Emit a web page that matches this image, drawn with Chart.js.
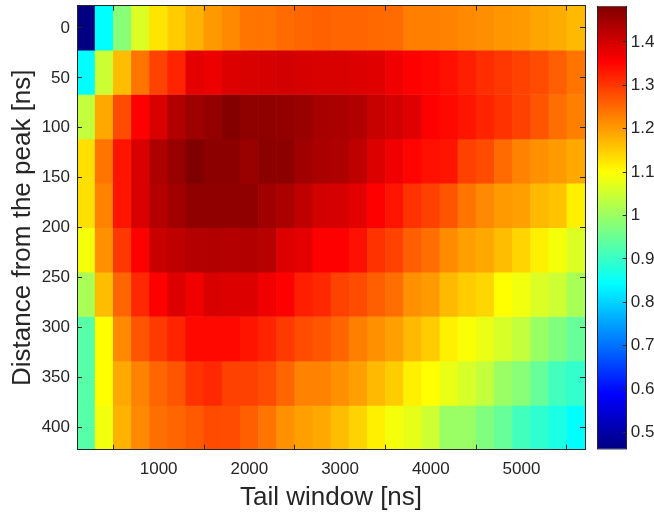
<!DOCTYPE html>
<html><head><meta charset="utf-8">
<script src="https://cdn.jsdelivr.net/npm/chart.js@4"></script>
<style>
html,body{margin:0;padding:0;background:#fff;width:654px;height:516px;overflow:hidden}
#main{position:absolute;left:0;top:0}
#cbar{position:absolute;left:560px;top:0}
</style></head><body>
<canvas id="main" width="654" height="516"></canvas>
<canvas id="cbar" width="94" height="516"></canvas>
<script>
// ---- data ----
const tailWindows = [200,400,600,800,1000,1200,1400,1600,1800,2000,2200,2400,2600,2800,3000,3200,3400,3600,3800,4000,4200,4400,4600,4800,5000,5200,5400,5600];
const peakDistances = [0,44.44,88.89,133.33,177.78,222.22,266.67,311.11,355.56,400];
const row_0   = [0.460,0.844,0.980,1.064,1.126,1.151,1.177,1.202,1.218,1.238,1.238,1.248,1.254,1.259,1.254,1.254,1.250,1.248,1.228,1.228,1.225,1.218,1.213,1.205,1.200,1.190,1.183,1.170];
const row_44  = [0.844,1.049,1.166,1.238,1.289,1.320,1.382,1.375,1.390,1.394,1.397,1.400,1.397,1.394,1.394,1.390,1.386,1.371,1.356,1.350,1.340,1.325,1.310,1.300,1.289,1.279,1.260,1.238];
const row_89  = [1.039,1.187,1.279,1.356,1.394,1.433,1.453,1.463,1.479,1.468,1.468,1.463,1.458,1.443,1.440,1.433,1.412,1.400,1.387,1.356,1.348,1.335,1.320,1.305,1.290,1.270,1.245,1.228];
const row_133 = [1.131,1.238,1.335,1.394,1.436,1.458,1.4835,1.471,1.471,1.458,1.471,1.471,1.450,1.440,1.436,1.420,1.390,1.371,1.353,1.340,1.335,1.290,1.279,1.248,1.225,1.210,1.200,1.187];
const row_178 = [1.131,1.225,1.335,1.394,1.430,1.450,1.466,1.466,1.466,1.466,1.450,1.440,1.420,1.400,1.397,1.382,1.356,1.335,1.305,1.290,1.270,1.238,1.218,1.200,1.195,1.170,1.160,1.115];
const row_222 = [1.090,1.210,1.300,1.356,1.410,1.420,1.430,1.433,1.430,1.433,1.428,1.390,1.382,1.356,1.356,1.340,1.305,1.289,1.260,1.245,1.215,1.195,1.187,1.166,1.143,1.115,1.090,1.064];
const row_267 = [1.013,1.166,1.254,1.315,1.356,1.390,1.370,1.394,1.390,1.390,1.370,1.356,1.325,1.315,1.289,1.279,1.260,1.245,1.210,1.200,1.170,1.151,1.140,1.100,1.087,1.064,1.050,1.013];
const row_311 = [0.931,1.100,1.218,1.270,1.297,1.320,1.348,1.348,1.348,1.335,1.320,1.297,1.279,1.270,1.254,1.228,1.210,1.195,1.170,1.151,1.115,1.095,1.080,1.060,1.039,0.998,0.972,0.946];
const row_356 = [0.931,1.100,1.187,1.225,1.254,1.270,1.305,1.315,1.290,1.290,1.279,1.254,1.225,1.225,1.210,1.195,1.170,1.151,1.115,1.100,1.080,1.060,1.039,0.998,0.980,0.946,0.910,0.895];
const row_400 = [0.931,1.087,1.177,1.218,1.245,1.254,1.265,1.280,1.279,1.260,1.238,1.210,1.195,1.187,1.166,1.143,1.115,1.090,1.075,1.050,0.998,0.998,0.972,0.946,0.910,0.890,0.870,0.844];
const xTickValues = [1000,2000,3000,4000,5000];
const yTickValues = [0,50,100,150,200,250,300,350,400];
const colorbarTicks = [0.5,0.6,0.7,0.8,0.9,1.0,1.1,1.2,1.3,1.4];
const xTitle = 'Tail window [ns]';
const yTitle = 'Distance from the peak [ns]';

// ---- derived ----
const rows = [row_0,row_44,row_89,row_133,row_178,row_222,row_267,row_311,row_356,row_400];
const allVals = rows.flat();
const cMin = Math.min(...allVals), cMax = Math.max(...allVals);
const dx = tailWindows[1]-tailWindows[0], dy = peakDistances[1]-peakDistances[0];
const xMin = tailWindows[0]-dx/2, xMax = tailWindows[tailWindows.length-1]+dx/2;
const yMin = peakDistances[0]-dy/2, yMax = peakDistances[peakDistances.length-1]+dy/2;

function clamp(v){return Math.max(0,Math.min(1,v));}
function jet(t){
  t = clamp(t);
  const r = clamp(1.5-Math.abs(4*t-3)), g = clamp(1.5-Math.abs(4*t-2)), b = clamp(1.5-Math.abs(4*t-1));
  return 'rgb('+Math.round(r*255)+','+Math.round(g*255)+','+Math.round(b*255)+')';
}
const TXT = '#262626';
Chart.defaults.font.family = '"Liberation Sans", Arial, Helvetica, sans-serif';
Chart.defaults.color = TXT;
const tickFont = {size:17};
const titleFont = {size:26};
const fmt = v => String(Number(v.toFixed(3)));

const datasets = rows.map((vals, r) => ({
  data: tailWindows.map(x => ({x: x, y: [peakDistances[r]-dy/2, peakDistances[r]+dy/2]})),
  backgroundColor: vals.map(v => jet((v-cMin)/(cMax-cMin))),
  borderWidth: 0, grouped: false, barPercentage: 1, categoryPercentage: 1
}));

const innerGrid = (len) => ({drawOnChartArea:false, drawTicks:true, tickLength:-len, tickColor:TXT, tickWidth:1, z:1});
const border = {display:true, color:TXT, width:1, z:1};
const noPad = s => { s.paddingTop = 0; s.paddingBottom = 0; s.paddingLeft = 0; s.paddingRight = 0; };

new Chart(document.getElementById('main'), {
  type:'bar',
  data:{datasets},
  options:{
    responsive:false, animation:false,
    plugins:{legend:{display:false}, tooltip:{enabled:false}},
    layout:{padding:{left:0,right:69,top:5.7,bottom:0}},
    scales:{
      x:{type:'linear', position:'bottom', min:xMin, max:xMax, offset:false,
         afterBuildTicks: s => { s.ticks = xTickValues.map(v=>({value:v})); },
         ticks:{font:tickFont, padding:14, maxRotation:0, callback: v => fmt(v)},
         grid:innerGrid(5), border,
         title:{display:true, text:xTitle, font:titleFont, padding:{top:0,bottom:2.4}},
         afterFit: s => { s.height = 66.3; noPad(s); }},
      x2:{type:'linear', position:'top', min:xMin, max:xMax, display:true, offset:false,
         afterBuildTicks: s => { s.ticks = xTickValues.map(v=>({value:v})); },
         ticks:{display:false}, grid:innerGrid(5), border,
         afterFit: s => { s.height = 0; noPad(s); }},
      y:{type:'linear', position:'left', min:yMin, max:yMax, reverse:true,
         afterBuildTicks: s => { s.ticks = yTickValues.map(v=>({value:v})); },
         ticks:{font:tickFont, padding:12, callback: v => fmt(v)},
         grid:innerGrid(5), border,
         title:{display:true, text:yTitle, font:titleFont, padding:{top:7.4,bottom:0}},
         afterFit: s => { s.width = 77; noPad(s); }},
      y2:{type:'linear', position:'right', min:yMin, max:yMax, reverse:true, display:true,
         afterBuildTicks: s => { s.ticks = yTickValues.map(v=>({value:v})); },
         ticks:{display:false}, grid:innerGrid(5), border,
         afterFit: s => { s.width = 0; noPad(s); }}
    }
  }
});

new Chart(document.getElementById('cbar'), {
  type:'bar',
  data:{labels:[''], datasets:[{
    data:[[cMin,cMax]],
    backgroundColor: (ctx) => {
      const ch = ctx.chart, a = ch.chartArea;
      if (!a) return 'rgba(0,0,0,0)';
      const g = ch.ctx.createLinearGradient(0, a.bottom, 0, a.top);
      for (let i=0;i<=64;i++) g.addColorStop(i/64, jet(i/64));
      return g;
    },
    borderWidth:1, borderColor:TXT, borderSkipped:false, inflateAmount:0,
    barPercentage:1, categoryPercentage:1
  }]},
  options:{
    responsive:false, animation:false,
    plugins:{legend:{display:false}, tooltip:{enabled:false}},
    layout:{padding:{left:37,right:0,top:5.7,bottom:66.3}},
    scales:{
      x:{display:false},
      y:{position:'right', min:cMin, max:cMax,
         afterBuildTicks: s => { s.ticks = colorbarTicks.map(v=>({value:v})); },
         ticks:{font:tickFont, padding:8, callback: v => fmt(v)},
         grid:innerGrid(4.3), border:{display:false},
         afterFit: s => { s.width = 27; noPad(s); }}
    }
  }
});
</script></body></html>
